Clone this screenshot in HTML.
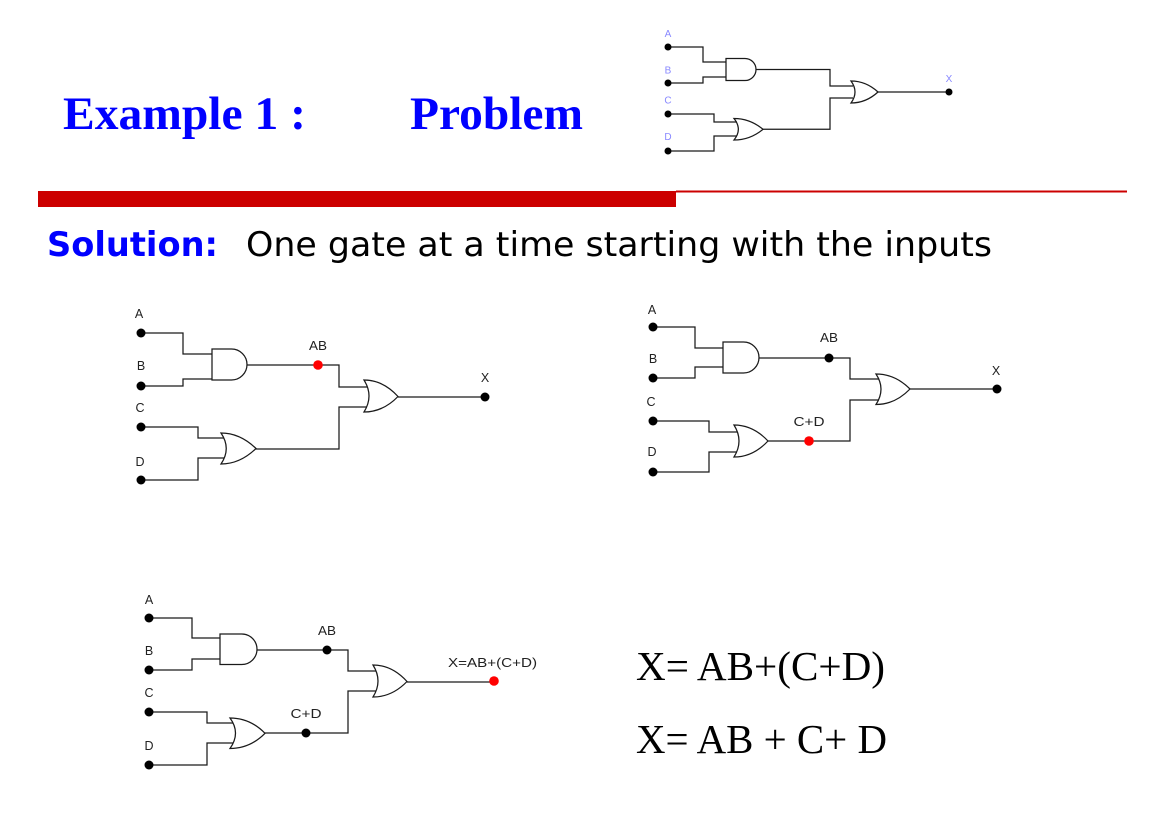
<!DOCTYPE html>
<html>
<head>
<meta charset="utf-8">
<style>
  html,body{margin:0;padding:0;background:#fff;}
  svg{display:block;}
  .w{fill:none;stroke:#1a1a1a;stroke-width:1.25;}
  .g{fill:#fff;stroke:#1a1a1a;stroke-width:1.25;}
  .lbl{font-family:"Liberation Sans",Arial,sans-serif;font-size:12.5px;fill:#222;text-anchor:middle;}
  .plbl{font-family:"Liberation Sans",Arial,sans-serif;font-size:10px;fill:#8888ff;text-anchor:middle;}
</style>
</head>
<body>
<svg width="1168" height="838" viewBox="0 0 1168 838" xmlns="http://www.w3.org/2000/svg">
  <rect x="0" y="0" width="1168" height="838" fill="#fff"/>

  <!-- Title -->
  <text x="63" y="129" font-family="'Liberation Serif','Times New Roman',serif" font-weight="bold" font-size="47" fill="#0000ff" textLength="243" lengthAdjust="spacingAndGlyphs">Example 1 :</text>
  <text x="410" y="129" font-family="'Liberation Serif','Times New Roman',serif" font-weight="bold" font-size="47" fill="#0000ff" textLength="173" lengthAdjust="spacingAndGlyphs">Problem</text>

  <!-- Red bar -->
  <rect x="38" y="191" width="638" height="16" fill="#cc0000"/>
  <rect x="676" y="190.5" width="451" height="2" fill="#cc0000"/>

  <!-- Solution line -->
  <text x="47" y="256" font-family="'DejaVu Sans',Verdana,sans-serif" font-weight="bold" font-size="34" fill="#0000ff" textLength="171" lengthAdjust="spacingAndGlyphs">Solution:</text>
  <text x="246" y="256" font-family="'DejaVu Sans',Verdana,sans-serif" font-size="34" fill="#000" textLength="746" lengthAdjust="spacingAndGlyphs">One gate at a time starting with the inputs</text>

  <!-- Equations -->
  <text x="636" y="680" font-family="'Liberation Serif','Times New Roman',serif" font-size="41" fill="#000" textLength="249" lengthAdjust="spacingAndGlyphs">X= AB+(C+D)</text>
  <text x="636" y="753" font-family="'Liberation Serif','Times New Roman',serif" font-size="41" fill="#000" textLength="251" lengthAdjust="spacingAndGlyphs">X= AB + C+ D</text>

  <!-- ===== Problem circuit (top) ===== -->
  <path class="w" d="M668,47 H703 V62 H726"/>
  <path class="w" d="M668,83 H703 V77 H726"/>
  <path class="g" d="M726,58.5 H745 A11,11 0 0 1 745,80.5 H726 Z"/>
  <path class="w" d="M756,69.5 H830 V86 H853"/>
  <path class="g" d="M851,81 Q866,81 878,92 Q866,103 851,103 Q859,92 851,81 Z"/>
  <path class="w" d="M878,92 H949"/>
  <path class="w" d="M853,98 H830 V129.3 H763"/>
  <path class="g" d="M734,118.5 Q750,118.5 763,129.3 Q750,140 734,140 Q742.7,129.3 734,118.5 Z"/>
  <path class="w" d="M668,114 H714 V122 H737"/>
  <path class="w" d="M668,151 H714 V136 H737"/>
  <circle cx="668" cy="47" r="3.5" fill="#000"/>
  <circle cx="668" cy="83" r="3.5" fill="#000"/>
  <circle cx="668" cy="114" r="3.5" fill="#000"/>
  <circle cx="668" cy="151" r="3.5" fill="#000"/>
  <circle cx="949" cy="92" r="3.5" fill="#000"/>
  <text class="plbl" x="668" y="37">A</text>
  <text class="plbl" x="668" y="73.5">B</text>
  <text class="plbl" x="668" y="103.5">C</text>
  <text class="plbl" x="668" y="140">D</text>
  <text class="plbl" x="949" y="82">X</text>

  <!-- ===== Circuit 1 (top-left) ===== -->
  <path class="w" d="M141,333 H183 V354 H212"/>
  <path class="w" d="M141,386 H183 V379 H212"/>
  <path class="g" d="M212,349 H231.5 A15.5,15.5 0 0 1 231.5,380 H212 Z"/>
  <path class="w" d="M247,365 H339 V387 H367"/>
  <path class="g" d="M364,380 Q383,380 398,396.5 Q383,412 364,412 Q374,396 364,380 Z"/>
  <path class="w" d="M398,397 H485"/>
  <path class="w" d="M367,407 H339 V449 H256"/>
  <path class="g" d="M221,433 Q240,433 256,448.5 Q240,464 221,464 Q231.5,448.5 221,433 Z"/>
  <path class="w" d="M141,427 H198 V438 H224"/>
  <path class="w" d="M141,480 H198 V458 H224"/>
  <circle cx="141" cy="333" r="4.5" fill="#000"/>
  <circle cx="141" cy="386" r="4.5" fill="#000"/>
  <circle cx="141" cy="427" r="4.5" fill="#000"/>
  <circle cx="141" cy="480" r="4.5" fill="#000"/>
  <circle cx="318" cy="365" r="4.8" fill="#ff0000"/>
  <circle cx="485" cy="397" r="4.5" fill="#000"/>
  <text class="lbl" x="139" y="318">A</text>
  <text class="lbl" x="141" y="370">B</text>
  <text class="lbl" x="140" y="412">C</text>
  <text class="lbl" x="140" y="466">D</text>
  <text class="lbl" x="318" y="350" textLength="18" lengthAdjust="spacingAndGlyphs">AB</text>
  <text class="lbl" x="485" y="382">X</text>

  <!-- ===== Circuit 2 (top-right) ===== -->
  <path class="w" d="M653,327 H695 V348 H723"/>
  <path class="w" d="M653,378 H695 V367 H723"/>
  <path class="g" d="M723,342 H743.5 A15.5,15.5 0 0 1 743.5,373 H723 Z"/>
  <path class="w" d="M759,358 H850 V379 H879"/>
  <path class="g" d="M876,374 Q895,374 910,389 Q895,404.5 876,404.5 Q886,389 876,374 Z"/>
  <path class="w" d="M910,389 H997"/>
  <path class="w" d="M879,400 H850 V441 H768"/>
  <path class="g" d="M734,425 Q753,425 768,441 Q753,457 734,457 Q744,441 734,425 Z"/>
  <path class="w" d="M653,421 H709 V432 H737"/>
  <path class="w" d="M653,472 H709 V452 H737"/>
  <circle cx="653" cy="327" r="4.5" fill="#000"/>
  <circle cx="653" cy="378" r="4.5" fill="#000"/>
  <circle cx="653" cy="421" r="4.5" fill="#000"/>
  <circle cx="653" cy="472" r="4.5" fill="#000"/>
  <circle cx="829" cy="358" r="4.5" fill="#000"/>
  <circle cx="809" cy="441" r="4.8" fill="#ff0000"/>
  <circle cx="997" cy="389" r="4.5" fill="#000"/>
  <text class="lbl" x="652" y="314">A</text>
  <text class="lbl" x="653" y="363">B</text>
  <text class="lbl" x="651" y="406">C</text>
  <text class="lbl" x="652" y="456">D</text>
  <text class="lbl" x="829" y="342" textLength="18" lengthAdjust="spacingAndGlyphs">AB</text>
  <text class="lbl" x="809" y="426" textLength="31" lengthAdjust="spacingAndGlyphs">C+D</text>
  <text class="lbl" x="996" y="375">X</text>

  <!-- ===== Circuit 3 (bottom) ===== -->
  <path class="w" d="M149,618 H192 V638 H220"/>
  <path class="w" d="M149,670 H192 V659 H220"/>
  <path class="g" d="M220,634 H241.75 A15.25,15.25 0 0 1 241.75,664.5 H220 Z"/>
  <path class="w" d="M257,650 H348 V671 H376"/>
  <path class="g" d="M373,665 Q392,665 407,681.5 Q392,697 373,697 Q383,681 373,665 Z"/>
  <path class="w" d="M407,682 H494"/>
  <path class="w" d="M376,691 H348 V733 H265"/>
  <path class="g" d="M230,718 Q250,718 265,733.3 Q250,748.5 230,748.5 Q241,733 230,718 Z"/>
  <path class="w" d="M149,712 H207 V723 H233"/>
  <path class="w" d="M149,765 H207 V743 H233"/>
  <circle cx="149" cy="618" r="4.5" fill="#000"/>
  <circle cx="149" cy="670" r="4.5" fill="#000"/>
  <circle cx="149" cy="712" r="4.5" fill="#000"/>
  <circle cx="149" cy="765" r="4.5" fill="#000"/>
  <circle cx="327" cy="650" r="4.5" fill="#000"/>
  <circle cx="306" cy="733" r="4.5" fill="#000"/>
  <circle cx="494" cy="681" r="4.8" fill="#ff0000"/>
  <text class="lbl" x="149" y="604">A</text>
  <text class="lbl" x="149" y="655">B</text>
  <text class="lbl" x="149" y="697">C</text>
  <text class="lbl" x="149" y="750">D</text>
  <text class="lbl" x="327" y="635" textLength="18" lengthAdjust="spacingAndGlyphs">AB</text>
  <text class="lbl" x="306" y="718" textLength="31" lengthAdjust="spacingAndGlyphs">C+D</text>
  <text x="448" y="667" font-family="'Liberation Sans',Arial,sans-serif" font-size="12.5" fill="#222" textLength="89" lengthAdjust="spacingAndGlyphs">X=AB+(C+D)</text>
</svg>
</body>
</html>
